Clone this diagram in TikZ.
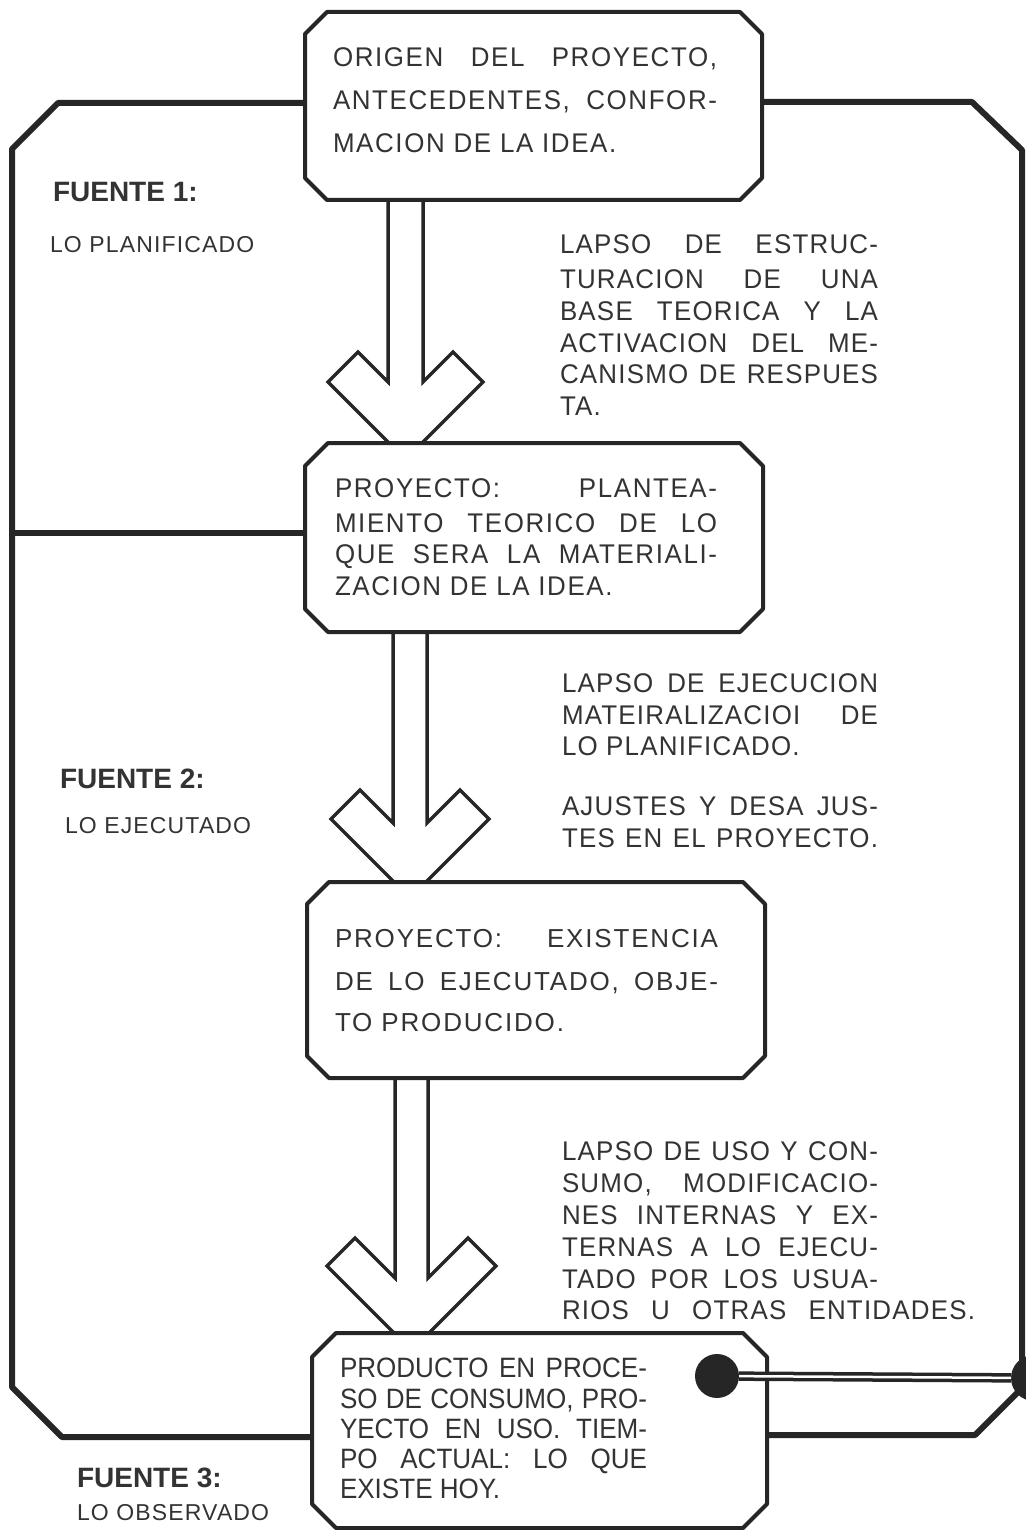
\documentclass[tikz,border=0pt]{standalone}
\usepackage{fontspec}
\setmainfont{Liberation Sans}
\newfontfamily\fA{Liberation Sans}[FakeStretch=0.96, LetterSpace=6]
\newfontfamily\fB{Liberation Sans}[LetterSpace=5]
\newfontfamily\fD{Liberation Sans}[LetterSpace=7]
\newfontfamily\fC{Liberation Sans}[FakeStretch=0.93]
\newfontfamily\fS{Liberation Sans}[FakeStretch=0.96, LetterSpace=4.5]
\usetikzlibrary{calc}
\newcommand{\jl}[2]{\makebox[#1][s]{#2}}
\newcommand{\chbox}[2]{\path[boxline] ($(#1.north west)+(0,#2)$) -- ($(#1.north west)+(#2,0)$) -- ($(#1.north east)+(-#2,0)$) -- ($(#1.north east)+(0,#2)$) -- ($(#1.south east)+(0,-#2)$) -- ($(#1.south east)+(-#2,0)$) -- ($(#1.south west)+(#2,0)$) -- ($(#1.south west)+(0,-#2)$) -- cycle;}
\newcommand{\harrow}[6]{%
  \coordinate (hx) at (#2,#4);
  \path[arrowline] ($(hx |- #1.south)+(-#3,-10)$) -- ($(hx)+(-#3,0)$) -- ++(-#5,-#5) -- ++(-#6,#6) -- ++({#3+#5+#6},{#3+#5+#6}) -- ++({#3+#5+#6},{-(#3+#5+#6)}) -- ++(-#6,-#6) -- ++(-#5,#5) -- ($(hx |- #1.south)+(#3,-10)$);}
\tikzset{
  loopline/.style={draw=black!85, line width=6pt, line join=round},
  boxline/.style={draw=black!85, line width=4pt, fill=white, line join=round},
  arrowline/.style={draw=black!85, line width=3.5pt, fill=white, line join=miter},
  frame/.style={inner sep=0pt, outer sep=0pt, draw=none},
  txt/.style={inner sep=0pt, outer sep=0pt, anchor=base west, text=black!80},
  tb1/.style={txt, font=\fA\fontsize{27}{32}\selectfont},
  tb3/.style={txt, font=\fD\fontsize{26}{32}\selectfont},
  tb4/.style={txt, font=\fC\fontsize{28}{32}\selectfont},
  tside/.style={txt, font=\fS\fontsize{27}{32}\selectfont},
  thead/.style={txt, font=\bfseries\fontsize{28}{32}\selectfont},
  tsub/.style={txt, font=\fB\fontsize{23}{26}\selectfont},
  dot/.style={circle, fill=black!85, inner sep=0pt, outer sep=0pt},
}
\begin{document}
\begin{tikzpicture}[x=1pt, y=-1pt]
\useasboundingbox (0,0) rectangle (1025,1530);
\fill[white] (0,0) rectangle (1025,1530);
% box frames
\node[frame, minimum width=457pt, minimum height=188pt] (b1) at (533.5,106) {};
\node[frame, minimum width=458pt, minimum height=189pt] (b2) at (534,537.5) {};
\node[frame, minimum width=458pt, minimum height=196pt] (b3) at (536,980) {};
\node[frame, minimum width=455pt, minimum height=195pt] (b4) at (539.5,1430.5) {};
% outer loops
\path[loopline] ([yshift=3pt]b1.west) -- (58,103) -- (12,149) -- (12,1387) -- (62,1437) -- ([yshift=-6.5pt]b4.west);
\path[loopline] ([yshift=4.5pt]b2.west) -- (12,533);
\path[loopline] ([yshift=4pt]b1.east) -- (972,102) -- (1022,150) -- (1022,1390);
\path[loopline] ([yshift=-4.5pt]b4.east) -- (975,1435) -- (1022,1388);
% hollow arrows
\harrow{b1}{405.5}{17.5}{382}{30}{30}
\harrow{b2}{410}{17}{823}{33}{29}
\harrow{b3}{411.5}{16.5}{1278}{40}{28}
% boxes
\chbox{b1}{22}
\chbox{b2}{23}
\chbox{b3}{22}
\chbox{b4}{24}
% dots and double line
\node[dot, minimum size=44pt] (d1) at (717,1376) {};
\node[dot, minimum size=46pt] (d2) at (1034,1378) {};
\draw[draw=black!85, line width=3.5pt, double=white, double distance=2.5pt] (d1) -- (d2);
% box texts
\node[tb1] (t11) at (333,67) {\jl{384pt}{ORIGEN DEL PROYECTO,}};
\node[tb1] (t12) at (333,110) {\jl{384pt}{ANTECEDENTES, CONFOR-}};
\node[tb1] (t13) at (333,153) {MACION DE LA IDEA.};
\node[tb1] (t21) at (335,497) {\jl{382pt}{PROYECTO: PLANTEA-}};
\node[tb1] (t22) at (335,532) {\jl{382pt}{MIENTO TEORICO DE LO}};
\node[tb1] (t23) at (335,563) {\jl{382pt}{QUE SERA LA MATERIALI-}};
\node[tb1] (t24) at (335,595) {ZACION DE LA IDEA.};
\node[tb3] (t31) at (335,947) {\jl{383pt}{PROYECTO: EXISTENCIA}};
\node[tb3] (t32) at (335,990) {\jl{383pt}{DE LO EJECUTADO, OBJE-}};
\node[tb3] (t33) at (335,1031) {TO PRODUCIDO.};
\node[tb4] (t41) at (340,1377) {\jl{307pt}{PRODUCTO EN PROCE-}};
\node[tb4] (t42) at (340,1408) {\jl{307pt}{SO DE CONSUMO, PRO-}};
\node[tb4] (t43) at (340,1438) {\jl{307pt}{YECTO EN USO. TIEM-}};
\node[tb4] (t44) at (340,1468) {\jl{307pt}{PO ACTUAL: LO QUE}};
\node[tb4] (t45) at (340,1498) {EXISTE HOY.};
% side texts
\node[tside] (sa1) at (560,254) {\jl{318pt}{LAPSO DE ESTRUC-}};
\node[tside] (sa2) at (560,288) {\jl{318pt}{TURACION DE UNA}};
\node[tside] (sa3) at (560,320) {\jl{318pt}{BASE TEORICA Y LA}};
\node[tside] (sa4) at (560,352) {\jl{318pt}{ACTIVACION DEL ME-}};
\node[tside] (sa5) at (560,383) {\jl{318pt}{CANISMO DE RESPUES}};
\node[tside] (sa6) at (560,415) {TA.};
\node[tside] (sb1) at (562,692) {\jl{316pt}{LAPSO DE EJECUCION}};
\node[tside] (sb2) at (562,724) {\jl{316pt}{MATEIRALIZACIOI DE}};
\node[tside] (sb3) at (562,755) {LO PLANIFICADO.};
\node[tside] (sb4) at (562,815) {\jl{316pt}{AJUSTES Y DESA JUS-}};
\node[tside] (sb5) at (562,847) {\jl{316pt}{TES EN EL PROYECTO.}};
\node[tside] (sc1) at (562,1160) {\jl{316pt}{LAPSO DE USO Y CON-}};
\node[tside] (sc2) at (562,1192) {\jl{316pt}{SUMO, MODIFICACIO-}};
\node[tside] (sc3) at (562,1224) {\jl{316pt}{NES INTERNAS Y EX-}};
\node[tside] (sc4) at (562,1256) {\jl{316pt}{TERNAS A LO EJECU-}};
\node[tside] (sc5) at (562,1288) {\jl{316pt}{TADO POR LOS USUA-}};
\node[tside] (sc6) at (562,1319) {\jl{413pt}{RIOS U OTRAS ENTIDADES.}};
% source labels
\node[thead] (f1) at (53,202) {FUENTE 1:};
\node[tsub] (f1s) at (50,253) {LO PLANIFICADO};
\node[thead] (f2) at (60,788) {FUENTE 2:};
\node[tsub] (f2s) at (65,833) {LO EJECUTADO};
\node[thead] (f3) at (77,1487) {FUENTE 3:};
\node[tsub] (f3s) at (77,1520) {LO OBSERVADO};
\end{tikzpicture}
\end{document}
